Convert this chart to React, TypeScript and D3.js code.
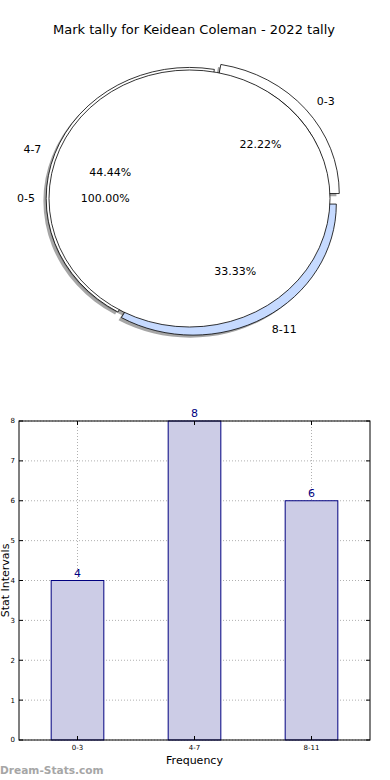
import React from "react"
import * as d3 from "d3"

const title = "Mark tally for Keidean Coleman - 2022 tally"

// outer ring of the pie
const ringLabels = ["0-3", "4-7", "8-11"]
const ringValues = [4, 8, 6]
const ringColors = ["#ffffff", "#ffffff", "#c6daff"]
const ringExplode = [0.06, 0, 0.05]

// inner pie
const coreLabels = ["0-5"]
const coreValues = [1]

// bar chart
const barLabels = ["0-3", "4-7", "8-11"]
const barValues = [4, 8, 6]
const yTicks = [0, 1, 2, 3, 4, 5, 6, 7, 8]

const font = "DejaVu Sans, sans-serif"

// pie geometry (matplotlib gave it an unequal aspect, so it's an ellipse)
const cx = 189.5
const cy = 198.5
const rx = 140.5
const ry = 128.5
const ringIn = 0.94
const ringOut = 1.02

// bar axes box
const margin = { top: 421, right: 370, bottom: 740, left: 19 }

function Pie() {
    // matplotlib: startangle 0 (3 o'clock), counter-clockwise
    const pie = d3.pie<number>().sort(null).startAngle(Math.PI / 2).endAngle(Math.PI / 2 - 2 * Math.PI)
    const ring = pie(ringValues)
    const core = pie(coreValues)
    const ringTotal = d3.sum(ringValues)
    const coreTotal = d3.sum(coreValues)

    const ringArc = d3.arc<d3.PieArcDatum<number>>().innerRadius(ringIn * rx).outerRadius(ringOut * rx)
    const coreArc = d3.arc<d3.PieArcDatum<number>>().innerRadius(0).outerRadius(rx)

    const mid = (d: d3.PieArcDatum<number>) => (d.startAngle + d.endAngle) / 2
    const pos = (a: number, k: number) => [cx + rx * k * Math.sin(a), cy - ry * k * Math.cos(a)]
    const shift = (a: number, e: number) => `translate(${rx * e * Math.sin(a)},${-rx * e * Math.cos(a)})`
    const fmt = d3.format(".2f")

    const scaleT = `translate(${cx},${cy}) scale(1,${ry / rx})`

    return (
        <g>
            {/* shadows */}
            <g transform="translate(-2.8,2.6)">
                <g transform={scaleT}>
                    {ring.map((d, i) => (
                        <path key={"rs" + i} d={ringArc(d) || ""} transform={shift(mid(d), ringExplode[i])}
                            fill="#4d4d4d" fillOpacity={0.5} />
                    ))}
                    {core.map((d, i) => (
                        <path key={"cs" + i} d={coreArc(d) || ""} fill="#4d4d4d" fillOpacity={0.5} />
                    ))}
                </g>
            </g>
            <g transform={scaleT}>
                {ring.map((d, i) => (
                    <path key={"r" + i} d={ringArc(d) || ""} transform={shift(mid(d), ringExplode[i])}
                        fill={ringColors[i]} stroke="#000" strokeWidth={0.8} vectorEffect="non-scaling-stroke" />
                ))}
                {core.map((d, i) => (
                    <path key={"c" + i} d={coreArc(d) || ""} fill="#ffffff" stroke="#000"
                        strokeWidth={0.8} vectorEffect="non-scaling-stroke" />
                ))}
            </g>
            {ring.map((d, i) => {
                const a = mid(d)
                const [lx, ly] = pos(a, 1.1 * ringOut + ringExplode[i])
                const [px, py] = pos(a, 0.6 + ringExplode[i])
                return (
                    <g key={"rl" + i} fontFamily={font} fontSize={11} fill="#000">
                        <text x={lx} y={ly} dy="0.35em" textAnchor={Math.sin(a) > 0 ? "start" : "end"}>{ringLabels[i]}</text>
                        <text x={px} y={py} dy="0.35em" textAnchor="middle">{fmt(ringValues[i] / ringTotal * 100)}%</text>
                    </g>
                )
            })}
            {core.map((d, i) => {
                const a = mid(d)
                const [lx, ly] = pos(a, 1.1)
                const [px, py] = pos(a, 0.6)
                return (
                    <g key={"cl" + i} fontFamily={font} fontSize={11} fill="#000">
                        <text x={lx} y={ly} dy="0.35em" textAnchor={Math.sin(a) > 0 ? "start" : "end"}>{coreLabels[i]}</text>
                        <text x={px} y={py} dy="0.35em" textAnchor="middle">{fmt(coreValues[i] / coreTotal * 100)}%</text>
                    </g>
                )
            })}
        </g>
    )
}

function Bars() {
    const x = d3.scaleLinear().domain([-0.5, barLabels.length - 0.5]).range([margin.left, margin.right])
    const y = d3.scaleLinear().domain([0, 8]).range([margin.bottom, margin.top])
    const bw = x(0.45) - x(0)
    const grid = "#b0b0b0"

    return (
        <g>
            {/* grid */}
            {yTicks.map(t => (
                <line key={"gy" + t} x1={margin.left} x2={margin.right} y1={y(t)} y2={y(t)}
                    stroke={grid} strokeWidth={1} strokeDasharray="1,2" />
            ))}
            {barLabels.map((c, i) => (
                <line key={"gx" + i} x1={x(i)} x2={x(i)} y1={margin.top} y2={margin.bottom}
                    stroke={grid} strokeWidth={1} strokeDasharray="1,2" />
            ))}
            {/* bars */}
            {barValues.map((v, i) => (
                <rect key={"b" + i} x={x(i) - bw / 2} y={y(v)} width={bw} height={y(0) - y(v)}
                    fill="#ccccE6" stroke="#000080" strokeWidth={1} />
            ))}
            {barValues.map((v, i) => (
                <text key={"bv" + i} x={x(i)} y={y(v) - 4} textAnchor="middle" fontFamily={font}
                    fontSize={11} fill="#000080">{v}</text>
            ))}
            {/* frame */}
            <rect x={margin.left} y={margin.top} width={margin.right - margin.left}
                height={margin.bottom - margin.top} fill="none" stroke="#000" strokeWidth={1} />
            {/* ticks */}
            {yTicks.map(t => (
                <g key={"ty" + t}>
                    <line x1={margin.left} x2={margin.left + 4} y1={y(t)} y2={y(t)} stroke="#000" />
                    <line x1={margin.right} x2={margin.right - 4} y1={y(t)} y2={y(t)} stroke="#000" />
                    <text x={margin.left - 4} y={y(t)} dy="0.35em" textAnchor="end" fontFamily={font}
                        fontSize={7} fill="#000">{t}</text>
                </g>
            ))}
            {barLabels.map((c, i) => (
                <g key={"tx" + i}>
                    <line x1={x(i)} x2={x(i)} y1={margin.bottom} y2={margin.bottom - 4} stroke="#000" />
                    <line x1={x(i)} x2={x(i)} y1={margin.top} y2={margin.top + 4} stroke="#000" />
                    <text x={x(i)} y={margin.bottom + 10} textAnchor="middle" fontFamily={font}
                        fontSize={7} fill="#000">{c}</text>
                </g>
            ))}
            <text x={(margin.left + margin.right) / 2} y={764} textAnchor="middle" fontFamily={font}
                fontSize={11} fill="#000">Frequency</text>
            <text transform={`translate(9,${(margin.top + margin.bottom) / 2}) rotate(-90)`} textAnchor="middle"
                fontFamily={font} fontSize={11} fill="#000">Stat Intervals</text>
        </g>
    )
}

export default function App() {
    return (
        <svg width={390} height={780} style={{ position: "absolute", left: 0, top: 0, background: "#fff" }}>
            <rect width={390} height={780} fill="#fff" />
            <text x={194} y={34} textAnchor="middle" fontFamily={font} fontSize={13} fill="#000">{title}</text>
            <Pie />
            <Bars />
            <text x={0} y={774} fontFamily={font} fontSize={10.6} fontWeight="bold" fill="#a6a6a6">Dream-Stats.com</text>
        </svg>
    )
}
